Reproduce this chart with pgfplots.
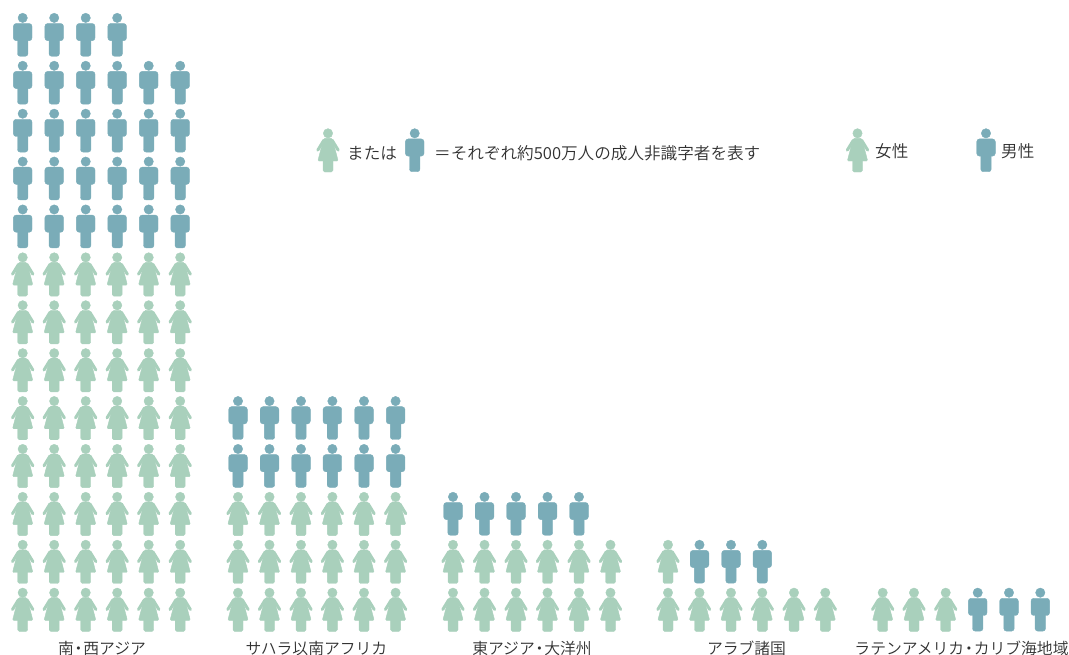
\documentclass[border=0pt]{standalone}
\usepackage{pgfplots}
\pgfplotsset{compat=1.18}
\usepackage{fontspec}
\setmainfont{Noto Sans CJK JP}[UprightFont=* DemiLight]
\definecolor{womancol}{HTML}{A9D0BC}
\definecolor{mancol}{HTML}{7AACB8}
\definecolor{textcol}{HTML}{303030}
\newcommand{\dotsep}{\hspace{-0.2em}・\hspace{-0.2em}}

% Pictograms, origin at the centre of the head; lengths in pt
\pgfdeclareplotmark{woman}{%
  \fill[womancol] (0pt,0pt) circle[radius=4.7pt];
  % skirt and bodice
  \fill[womancol]
    (-3pt,-5pt) -- (3pt,-5pt) .. controls (4.5pt,-5pt) and (5pt,-7pt) .. (5.6pt,-10pt)
    -- (9.9pt,-26.6pt) .. controls (10pt,-27.2pt) and (9.6pt,-27.7pt) .. (9pt,-27.7pt)
    -- (-9pt,-27.7pt) .. controls (-9.6pt,-27.7pt) and (-10pt,-27.2pt) .. (-9.9pt,-26.6pt)
    -- (-5.6pt,-10pt) .. controls (-5pt,-7pt) and (-4.5pt,-5pt) .. (-3pt,-5pt) -- cycle;
  % arms
  \draw[womancol,line width=3pt,line cap=round] (-4.2pt,-7pt) -- (-10.2pt,-16.8pt);
  \draw[womancol,line width=3pt,line cap=round] (4.2pt,-7pt) -- (10.2pt,-16.8pt);
  % legs
  \fill[womancol,rounded corners=1.6pt] (-5pt,-25pt) rectangle (5pt,-38.7pt);
}
\pgfdeclareplotmark{man}{%
  \fill[mancol] (0pt,0pt) circle[radius=4.7pt];
  % torso
  \fill[mancol,rounded corners=2.8pt] (-9.3pt,-5.6pt) rectangle (9.3pt,-22.8pt);
  % legs
  \fill[mancol,rounded corners=2.6pt] (-5.2pt,-18pt) rectangle (5.2pt,-38.4pt);
}

\begin{document}
\begin{tikzpicture}
\useasboundingbox (0,0) rectangle (1069pt,655pt);
\begin{axis}[
  at={(0,0)}, anchor=south west,
  scale only axis, width=1069pt, height=655pt,
  xmin=0, xmax=1069,
  % one row unit of the pictogram grid is 47.9 pt
  ymin=-1.3006, ymax=12.3737,
  hide axis, clip=false,
  only marks,
]
% South and West Asia
\addplot[mark=woman] coordinates {
 (22.7,0)(54.2,0)(85.7,0)(117.2,0)(148.7,0)(180.2,0)
 (22.7,1)(54.2,1)(85.7,1)(117.2,1)(148.7,1)(180.2,1)
 (22.7,2)(54.2,2)(85.7,2)(117.2,2)(148.7,2)(180.2,2)
 (22.7,3)(54.2,3)(85.7,3)(117.2,3)(148.7,3)(180.2,3)
 (22.7,4)(54.2,4)(85.7,4)(117.2,4)(148.7,4)(180.2,4)
 (22.7,5)(54.2,5)(85.7,5)(117.2,5)(148.7,5)(180.2,5)
 (22.7,6)(54.2,6)(85.7,6)(117.2,6)(148.7,6)(180.2,6)
 (22.7,7)(54.2,7)(85.7,7)(117.2,7)(148.7,7)(180.2,7)
};
\addplot[mark=man] coordinates {
 (22.7,8)(54.2,8)(85.7,8)(117.2,8)(148.7,8)(180.2,8)
 (22.7,9)(54.2,9)(85.7,9)(117.2,9)(148.7,9)(180.2,9)
 (22.7,10)(54.2,10)(85.7,10)(117.2,10)(148.7,10)(180.2,10)
 (22.7,11)(54.2,11)(85.7,11)(117.2,11)(148.7,11)(180.2,11)
 (22.7,12)(54.2,12)(85.7,12)(117.2,12)
};
% Sub-Saharan Africa
\addplot[mark=woman] coordinates {
 (238,0)(269.5,0)(301,0)(332.4,0)(364,0)(395.6,0)
 (238,1)(269.5,1)(301,1)(332.4,1)(364,1)(395.6,1)
 (238,2)(269.5,2)(301,2)(332.4,2)(364,2)(395.6,2)
};
\addplot[mark=man] coordinates {
 (238,3)(269.5,3)(301,3)(332.4,3)(364,3)(395.6,3)
 (238,4)(269.5,4)(301,4)(332.4,4)(364,4)(395.6,4)
};
% East Asia and Pacific
\addplot[mark=woman] coordinates {
 (453,0)(484.5,0)(516,0)(547.5,0)(579,0)(610.5,0)
 (453,1)(484.5,1)(516,1)(547.5,1)(579,1)(610.5,1)
};
\addplot[mark=man] coordinates {
 (453,2)(484.5,2)(516,2)(547.5,2)(579,2)
};
% Arab States
\addplot[mark=woman] coordinates {
 (668,0)(699.5,0)(731,0)(762.3,0)(794,0)(825.3,0)
 (668,1)
};
\addplot[mark=man] coordinates {
 (699.5,1)(731,1)(762.3,1)
};
% Latin America and the Caribbean
\addplot[mark=woman] coordinates {(882.7,0)(914,0)(945.7,0)};
\addplot[mark=man] coordinates {(977.7,0)(1009,0)(1040.3,0)};
% Key
\addplot[mark=woman] coordinates {(328,9.59)(857.5,9.59)};
\addplot[mark=man] coordinates {(414.7,9.59)(986,9.59)};
\end{axis}
\begin{scope}[every node/.style={inner sep=0pt,text=textcol,anchor=base,font=\fontsize{15.8}{15.8}\selectfont}]
\node at (102pt,0.5pt) {南\dotsep 西アジア};
\node at (316.5pt,0.5pt) {サハラ以南アフリカ};
\node at (532pt,0.5pt) {東アジア\dotsep 大洋州};
\node at (746.5pt,0.5pt) {アラブ諸国};
\node at (961.5pt,0.5pt) {ラテンアメリカ\dotsep カリブ海地域};
\end{scope}
\begin{scope}[every node/.style={inner sep=0pt,text=textcol,anchor=base west,font=\fontsize{16.6}{16.6}\selectfont}]
\node at (347pt,495.5pt) {または};
\node at (434pt,495.5pt) {＝それぞれ約500万人の成人非識字者を表す};
\node at (875pt,497.5pt) {女性};
\node at (1001pt,497.5pt) {男性};
\end{scope}
\end{tikzpicture}
\end{document}
